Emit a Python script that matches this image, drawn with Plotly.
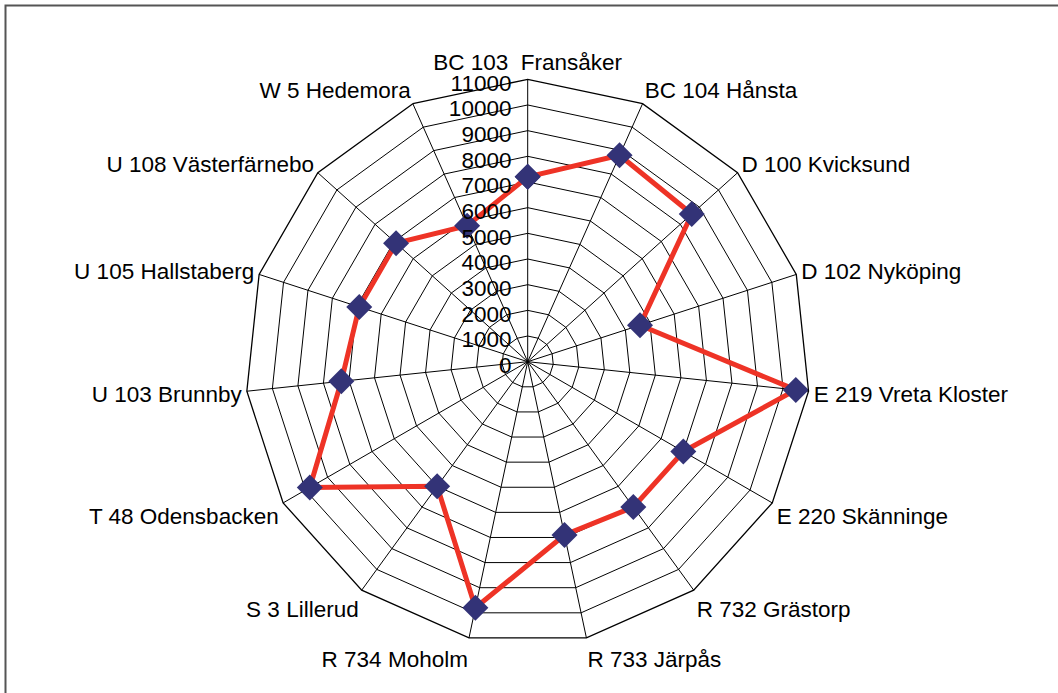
import plotly.graph_objects as go

# Categories clockwise from the top
sites = [
    "BC 103\u00a0 Fransåker",
    "BC 104 Hånsta",
    "D 100 Kvicksund",
    "D 102 Nyköping",
    "E 219 Vreta Kloster",
    "E 220 Skänninge",
    "R 732 Grästorp",
    "R 733 Järpås",
    "R 734 Moholm",
    "S 3 Lillerud",
    "T 48 Odensbacken",
    "U 103 Brunnby",
    "U 105 Hallstaberg",
    "U 108 Västerfärnebo",
    "W 5 Hedemora",
]
values = [7200, 8800, 8600, 4600, 10500, 7000, 7000, 6900, 9800, 6000, 9800, 7300, 6900, 6900, 5800]
radial_ticks = list(range(0, 11001, 1000))

W, H = 1058, 693
cx, cy, R = 527.7, 361.7, 282.4

fig = go.Figure()
fig.add_trace(
    go.Scatterpolar(
        r=values + values[:1],
        theta=sites + sites[:1],
        mode="lines+markers",
        line=dict(color="#EE3326", width=5),
        marker=dict(symbol="diamond", size=20, color="#333377"),
        showlegend=False,
    )
)

fig.update_layout(
    width=W,
    height=H,
    margin=dict(l=0, r=0, t=0, b=0),
    paper_bgcolor="white",
    font=dict(family="Arial, Liberation Sans, sans-serif", size=22.5, color="black"),
    polar=dict(
        domain=dict(
            x=[(cx - R) / W, (cx + R) / W],
            y=[1 - (cy + R) / H, 1 - (cy - R) / H],
        ),
        bgcolor="white",
        gridshape="linear",
        radialaxis=dict(
            range=[0, 11000],
            tickvals=radial_ticks,
            ticktext=[str(v) for v in radial_ticks],
            angle=90,
            side="counterclockwise",
            showline=False,
            ticks="",
            gridcolor="black",
            gridwidth=1.3,
            tickfont=dict(size=22.5),
        ),
        angularaxis=dict(
            direction="clockwise",
            rotation=90,
            categoryorder="array",
            categoryarray=sites,
            linecolor="black",
            linewidth=1.3,
            gridcolor="black",
            gridwidth=1.3,
            ticks="",
            tickfont=dict(size=22.5),
        ),
    ),
    shapes=[
        dict(
            type="rect",
            xref="paper",
            yref="paper",
            x0=5.5 / W,
            x1=1.02,
            y0=-0.02,
            y1=1 - 5.5 / H,
            line=dict(color="#555555", width=2),
        )
    ],
)

# page body has a default 8px margin; drop it so the chart sits at 0,0
fig.write_html(
    "out.html",
    config={"displayModeBar": False},
    post_script="document.body.style.margin='0';",
)
